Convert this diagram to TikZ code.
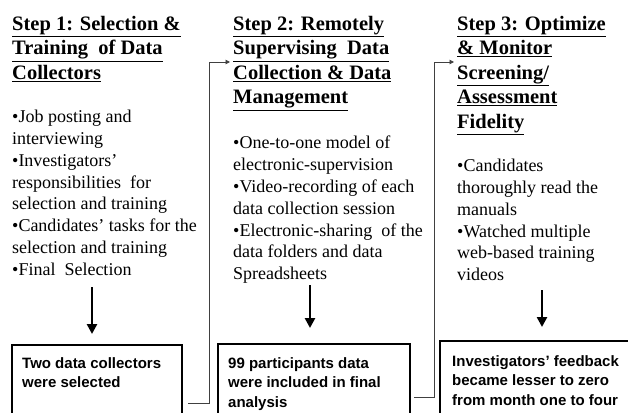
\documentclass[tikz,border=0pt]{standalone}
\usepackage{fontspec}
\setmainfont{Liberation Serif}
\newfontfamily\boxfont{Liberation Sans}
\usetikzlibrary{arrows.meta}
\tikzset{
  heading/.style={anchor=north west, inner sep=0pt, align=left, font=\bfseries\fontsize{20.5}{24.5}\selectfont},
  bodytext/.style={anchor=north west, inner sep=0pt, align=left, font=\fontsize{18}{21.8}\selectfont},
  resultbox/.style={line width=1.6pt},
  resulttext/.style={anchor=north west, inner sep=0pt, align=left, font=\boxfont\bfseries\fontsize{15}{19.5}\selectfont},
  downarrow/.style={line width=2.6pt, -{Triangle[width=10pt,length=10pt]}},
  connector/.style={line width=0.9pt, draw=black!75, -{Triangle[width=4.5pt,length=4.5pt]}}
}
\begin{document}
\begin{tikzpicture}[x=1pt,y=-1pt]
\useasboundingbox (0,0) rectangle (628,412);
\fill[white] (0,0) rectangle (628,412);
% headings
\node[heading] (h1) at (12,16) {\underline{Step 1: Selection \&}\\\underline{Training\ \ of Data}\\\underline{Collectors}};
\node[heading] (h2) at (233,16) {\underline{Step 2: Remotely}\\\underline{Supervising\ \ Data}\\\underline{Collection \& Data}\\\underline{Management}};
\node[heading] (h3) at (457,16) {\underline{Step 3: Optimize}\\\underline{\& Monitor}\\\underline{Screening/}\\\underline{Assessment}\\\underline{Fidelity}};
% bodies
\node[bodytext] (b1) at (12,110) {•Job posting and\\interviewing\\•Investigators’\\responsibilities\ \ for\\selection and training\\•Candidates’ tasks for the\\selection and training\\•Final\ \ Selection};
\node[bodytext] (b2) at (233,136) {•One-to-one model of\\electronic-supervision\\•Video-recording of each\\data collection session\\•Electronic-sharing\ \ of the\\data folders and data\\Spreadsheets};
\node[bodytext] (b3) at (457,159) {•Candidates\\thoroughly read the\\manuals\\•Watched multiple\\web-based training\\videos};
% result boxes
\coordinate (box1) at (12,345);
\coordinate (box2) at (218,344);
\coordinate (box3) at (440,341);
\draw[resultbox] (12,430) |- (182,345) -- (182,430);
\draw[resultbox] (218,430) |- (410,344) -- (410,430);
\draw[resultbox] (440,430) |- (640,341);
\node[resulttext] (r1) at (22,357) {Two data collectors\\were selected};
\node[resulttext] (r2) at (228,357) {99 participants data\\were included in final\\analysis};
\node[resulttext] (r3) at (452,355) {Investigators’ feedback\\became lesser to zero\\from month one to four};
% down arrows
\coordinate (a1s) at (92,287); \coordinate (a1e) at (92,334);
\coordinate (a2s) at (310,285); \coordinate (a2e) at (310,328);
\coordinate (a3s) at (542,290); \coordinate (a3e) at (542,327);
\draw[downarrow] (a1s) -- (a1e);
\draw[downarrow] (a2s) -- (a2e);
\draw[downarrow] (a3s) -- (a3e);
% connectors
\coordinate (c1s) at (188,403);
\coordinate (c1e) at (230,62);
\draw[connector] (c1s) -- (209,403) -- (209,62) -- (c1e);
\coordinate (c2s) at (414,397);
\coordinate (c2e) at (454,62);
\draw[connector] (c2s) -- (434,397) -- (434,62) -- (c2e);
\end{tikzpicture}
\end{document}
